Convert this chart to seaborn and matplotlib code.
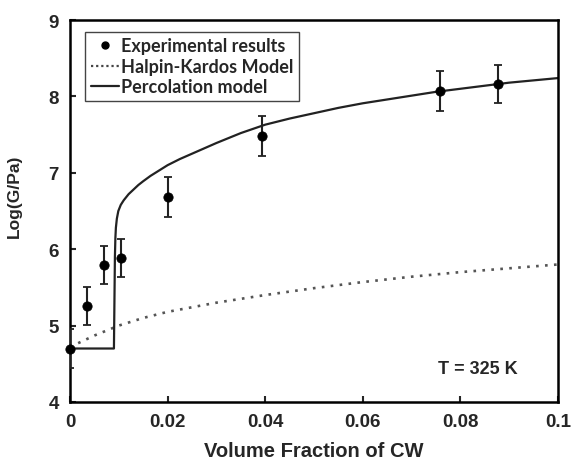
import numpy as np
import pandas as pd
import seaborn as sns
import matplotlib.pyplot as plt
from matplotlib.lines import Line2D

sns.set_style('ticks')
plt.rcParams['font.family'] = ['Liberation Sans', 'DejaVu Sans']

exp_x = [0.0, 0.0034, 0.0070, 0.0104, 0.0201, 0.0394, 0.0758, 0.0878]
exp_y = [4.70, 5.26, 5.79, 5.89, 6.68, 7.48, 8.07, 8.16]
exp_err = [0.25, 0.25, 0.25, 0.25, 0.26, 0.26, 0.26, 0.25]

# Halpin-Kardos 模型
hk_x = [0.0, 0.005, 0.01, 0.015, 0.02, 0.03, 0.04, 0.05, 0.06, 0.07, 0.08, 0.09, 0.1]
hk_y = [4.72, 4.87, 5.00, 5.10, 5.18, 5.30, 5.40, 5.49, 5.57, 5.64, 5.70, 5.75, 5.80]

# 渗流模型
perc_x = [0.0, 0.0090, 0.0092, 0.0093, 0.0094, 0.0096, 0.0099, 0.0104, 0.011, 0.012,
          0.013, 0.014, 0.015, 0.0165, 0.018, 0.02, 0.0225, 0.025, 0.0275, 0.03,
          0.035, 0.04, 0.045, 0.05, 0.055, 0.06, 0.065, 0.07, 0.075, 0.08, 0.085,
          0.09, 0.095, 0.1]
perc_y = [4.70, 4.70, 5.90, 6.15, 6.28, 6.40, 6.50, 6.58, 6.64, 6.72,
          6.78, 6.84, 6.89, 6.96, 7.02, 7.10, 7.18, 7.25, 7.32, 7.39,
          7.52, 7.63, 7.71, 7.78, 7.85, 7.91, 7.96, 8.01, 8.06, 8.10, 8.14,
          8.18, 8.21, 8.24]

hk = pd.DataFrame({'x': hk_x, 'y': hk_y})
perc = pd.DataFrame({'x': perc_x, 'y': perc_y})
exp = pd.DataFrame({'x': exp_x, 'y': exp_y, 'err': exp_err})

fig = plt.figure(figsize=(5.72, 4.64), dpi=100)
ax = fig.add_axes([0.1224, 0.1315, 0.8531, 0.8232])

sns.lineplot(data=hk, x='x', y='y', ax=ax, color='#555555', linestyle=(0, (1, 2.4)),
             linewidth=1.9, estimator=None, sort=False)
sns.lineplot(data=perc, x='x', y='y', ax=ax, color='#222222', linewidth=1.6,
             estimator=None, sort=False)
ax.errorbar(exp['x'], exp['y'], yerr=exp['err'], fmt='none', ecolor='#222222',
            elinewidth=1.5, capsize=3, capthick=1.3, zorder=3)
sns.scatterplot(data=exp, x='x', y='y', ax=ax, color='black', s=45,
                edgecolor='black', zorder=4, clip_on=False)

ax.set_xlim(0, 0.1)
ax.set_ylim(4, 9)
ax.set_xticks([0, 0.02, 0.04, 0.06, 0.08, 0.1])
ax.set_xticklabels(['0', '0.02', '0.04', '0.06', '0.08', '0.1'])
ax.set_yticks([4, 5, 6, 7, 8, 9])
ax.tick_params(direction='in', length=4, width=1.5, labelsize=13.5, pad=8)
for lab in ax.get_xticklabels() + ax.get_yticklabels():
    lab.set_fontweight('bold')
for sp in ax.spines.values():
    sp.set_linewidth(1.8)
    sp.set_color('black')

ax.set_xlabel('Volume Fraction of CW', fontsize=14.5, fontweight='bold', labelpad=8)
ax.set_ylabel('Log(G/Pa)', fontsize=12.5, fontweight='bold')
ax.yaxis.set_label_coords(-0.098, 0.542)

ax.text(0.0755, 4.38, 'T = 325 K', fontsize=13, fontweight='bold')

handles = [
    Line2D([], [], marker='o', color='black', linestyle='none', markersize=5),
    Line2D([], [], color='#444444', linestyle=(0, (1, 1.3)), linewidth=1.6),
    Line2D([], [], color='#222222', linewidth=1.6),
]
labels = ['Experimental results', 'Halpin-Kardos Model', 'Percolation model']
leg = ax.legend(handles, labels, loc='upper left', bbox_to_anchor=(0.031, 0.969),
                frameon=True, fancybox=False, edgecolor='#444444', framealpha=1,
                handlelength=1.6, handletextpad=0.1, borderpad=0.3, borderaxespad=0,
                labelspacing=0.2, prop={'family': 'Lato', 'weight': 'bold', 'size': 13})
leg.get_frame().set_linewidth(1.0)

fig.savefig('out.png', dpi=100)
